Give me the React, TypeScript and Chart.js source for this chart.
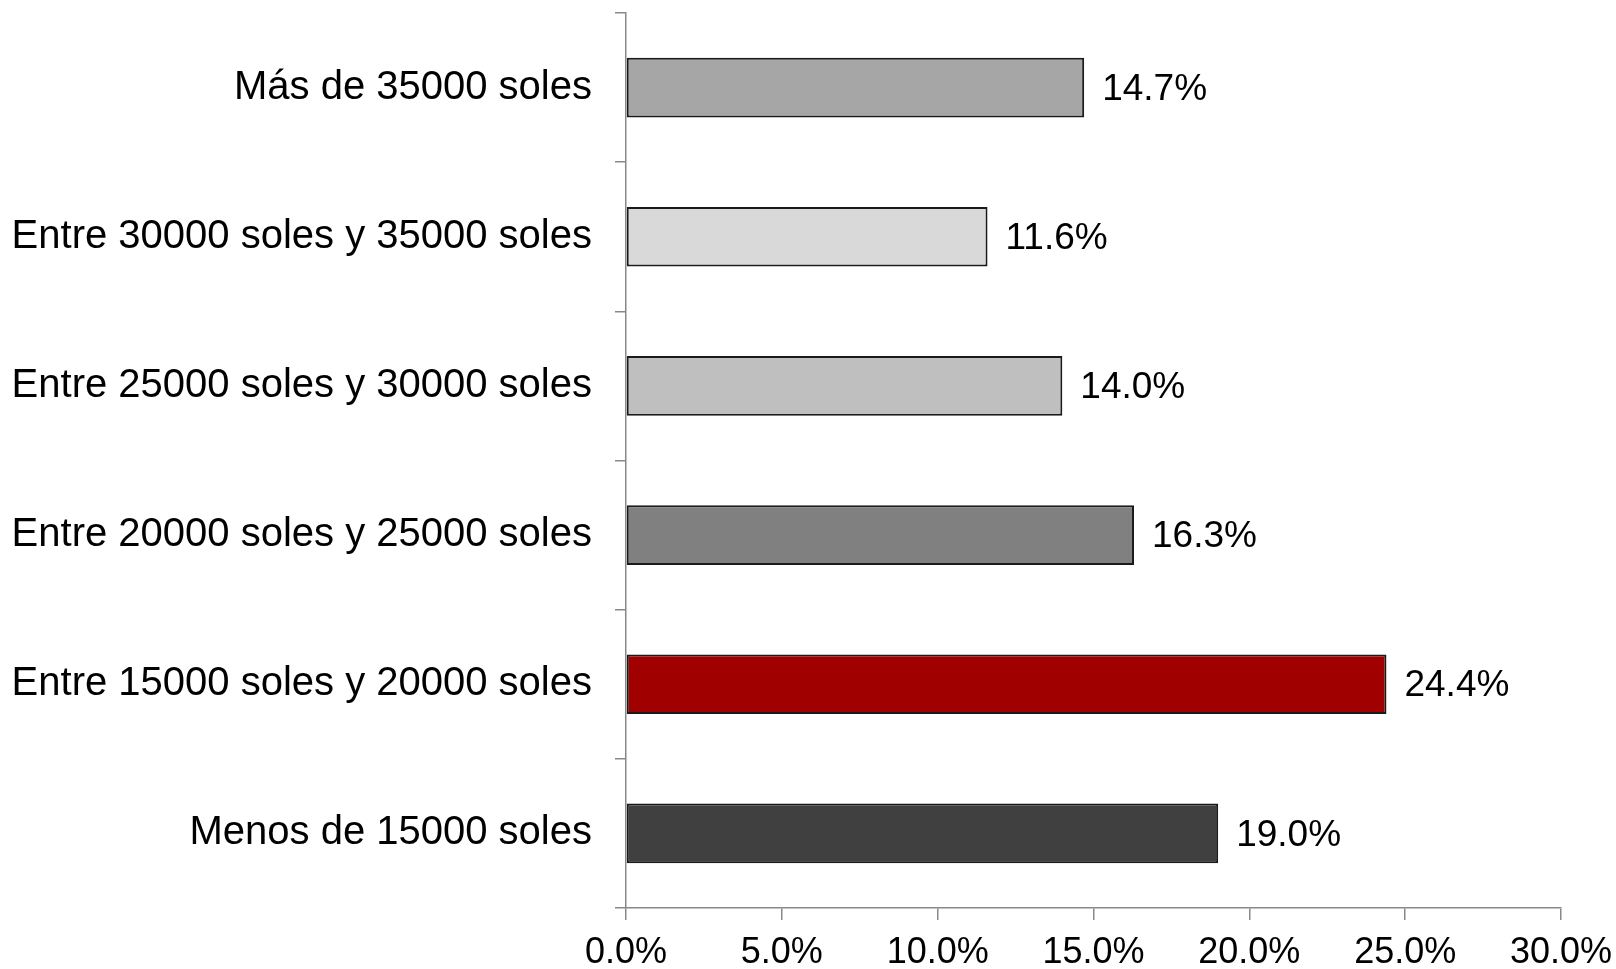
import React, { useEffect, useRef } from "react";
import { Chart, registerables } from "chart.js";

Chart.register(...registerables);

const categories = [
  "Más de 35000 soles",
  "Entre 30000 soles y 35000 soles",
  "Entre 25000 soles y 30000 soles",
  "Entre 20000 soles y 25000 soles",
  "Entre 15000 soles y 20000 soles",
  "Menos de 15000 soles",
];
const values = [14.7, 11.6, 14.0, 16.3, 24.4, 19.0];
const barColors = ["#a6a6a6", "#d9d9d9", "#bfbfbf", "#808080", "#a00000", "#404040"];
const xTicks = [0, 5, 10, 15, 20, 25, 30];

const FONT = '"Liberation Sans", Arial, Helvetica, sans-serif';

const valueLabels = {
  id: "valueLabels",
  afterDatasetsDraw(chart: any) {
    const ctx = chart.ctx;
    const meta = chart.getDatasetMeta(0);
    ctx.save();
    ctx.font = `37px ${FONT}`;
    ctx.fillStyle = "#000";
    ctx.textAlign = "left";
    ctx.textBaseline = "middle";
    meta.data.forEach((bar: any, i: number) => {
      const v = chart.data.datasets[0].data[i] as number;
      ctx.fillText(v.toFixed(1) + "%", bar.x + 18, bar.y + 2);
    });
    ctx.restore();
  },
};

export default function App() {
  const ref = useRef<HTMLCanvasElement>(null);
  useEffect(() => {
    if (!ref.current) return;
    const chart = new Chart(ref.current, {
      type: "bar",
      data: {
        labels: categories,
        datasets: [
          {
            data: values,
            backgroundColor: barColors,
            borderColor: "#1a1a1a",
            borderWidth: 2,
            borderSkipped: false,
            barPercentage: 0.4,
            categoryPercentage: 1,
          },
        ],
      },
      options: {
        indexAxis: "y",
        animation: false,
        responsive: false,
        devicePixelRatio: 1,
        layout: { padding: { top: 13, right: 55, left: 0, bottom: 0 } },
        plugins: { legend: { display: false }, tooltip: { enabled: false } },
        scales: {
          x: {
            min: 0,
            max: 30,
            afterBuildTicks(scale: any) {
              scale.ticks = xTicks.map((v) => ({ value: v }));
            },
            afterFit(scale: any) {
              scale.height = 61;
              scale.paddingLeft = 0;
              scale.paddingRight = 0;
            },
            grid: {
              drawOnChartArea: false,
              drawTicks: true,
              tickLength: 12,
              color: "#888",
              lineWidth: 1.5,
            },
            border: { display: true, color: "#888", width: 1.5 },
            ticks: {
              color: "#000",
              padding: 11,
              maxRotation: 0,
              font: { family: FONT, size: 36 },
              callback: (v: any) => Number(v).toFixed(1) + "%",
            },
          },
          y: {
            afterFit(scale: any) {
              scale.width = 626;
              scale.paddingTop = 0;
              scale.paddingBottom = 0;
            },
            grid: {
              drawOnChartArea: false,
              drawTicks: true,
              tickLength: 11,
              color: "#888",
              lineWidth: 1.5,
            },
            border: { display: true, color: "#888", width: 1.5 },
            ticks: {
              color: "#000",
              padding: 23,
              font: { family: FONT, size: 40 },
            },
          },
        },
      },
      plugins: [valueLabels],
    });
    return () => chart.destroy();
  }, []);
  return (
    <canvas
      ref={ref}
      width={1616}
      height={969}
      style={{ position: "absolute", left: 0, top: 0, width: 1616, height: 969 }}
    />
  );
}
